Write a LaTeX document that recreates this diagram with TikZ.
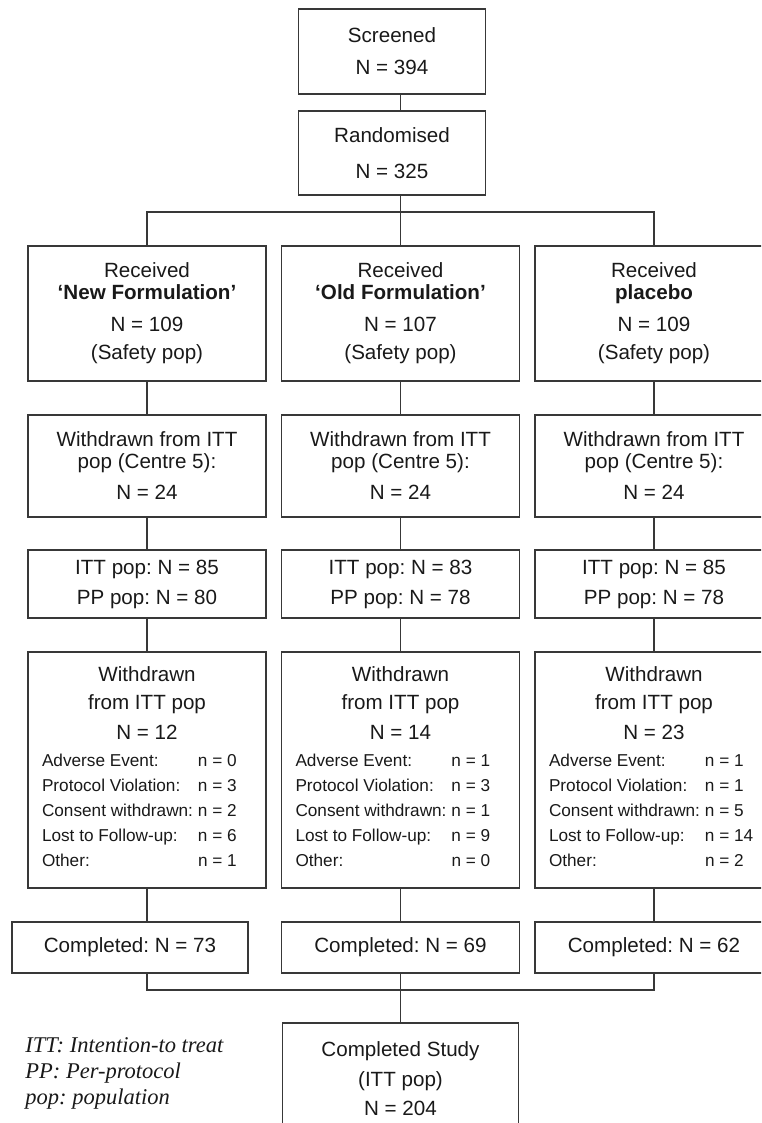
\documentclass[tikz,border=0pt]{standalone}
\usepackage{fontspec}
\setmainfont{Liberation Sans}
\newfontfamily\legendfont{Liberation Serif}
\usepackage{tikz}
\usetikzlibrary{calc,positioning}
\usepackage{xcolor}
\definecolor{linegray}{gray}{0.22}
\frenchspacing

\newcommand{\reasons}[5]{{\fontsize{8.6pt}{12.5pt}\selectfont
  \begin{tabular}[t]{@{}p{78pt}@{}p{27pt}@{}}
  Adverse Event: & n = #1\\
  Protocol Violation: & n = #2\\
  Consent withdrawn: & n = #3\\
  Lost to Follow-up: & n = #4\\
  Other: & n = #5
  \end{tabular}}}

\begin{document}
\begin{tikzpicture}[x=0.5pt, y=-0.5pt,
  flowbox/.style={draw=linegray, line width=0.7pt, align=center, inner sep=0pt,
    text=black!90, font=\fontsize{10.3pt}{11pt}\selectfont},
  armbox/.style={flowbox, minimum width=119pt},
  link/.style={draw=linegray, line width=0.7pt}]
\useasboundingbox (0,0) rectangle (761,1123);
\clip (0,0) rectangle (761,1123);

% --- screening and randomisation ---
\node[flowbox, minimum width=93.5pt, minimum height=42.5pt] (scr) at (392,51.5) {Screened\\[5pt]N = 394};
\node[flowbox, minimum width=93.5pt, minimum height=42pt] (rnd) at (392,153) {Randomised\\[7pt]N = 325};

% --- received ---
\node[armbox, minimum height=67.5pt] (rcv1) at (147,313.5) {Received\\\textbf{‘New Formulation’}\\[5pt]N = 109\\[3pt](Safety pop)};
\node[armbox, minimum height=67.5pt] (rcv2) at (400.5,313.5) {Received\\\textbf{‘Old Formulation’}\\[5pt]N = 107\\[3pt](Safety pop)};
\node[armbox, minimum height=67.5pt] (rcv3) at (654,313.5) {Received\\\textbf{placebo}\\[5pt]N = 109\\[3pt](Safety pop)};

% --- centre 5 ---
\node[armbox, minimum height=51pt] (ctr1) at (147,466) {Withdrawn from ITT\\pop (Centre 5):\\[4.5pt]N = 24};
\node[armbox, minimum height=51pt] (ctr2) at (400.5,466) {Withdrawn from ITT\\pop (Centre 5):\\[4.5pt]N = 24};
\node[armbox, minimum height=51pt] (ctr3) at (654,466) {Withdrawn from ITT\\pop (Centre 5):\\[4.5pt]N = 24};

% --- populations ---
\node[armbox, minimum height=34pt] (itt1) at (147,584) {ITT pop: N = 85\\[4pt]PP pop: N = 80};
\node[armbox, minimum height=34pt] (itt2) at (400.5,584) {ITT pop: N = 83\\[4pt]PP pop: N = 78};
\node[armbox, minimum height=34pt] (itt3) at (654,584) {ITT pop: N = 85\\[4pt]PP pop: N = 78};

% --- withdrawn ---
\node[armbox, minimum height=118pt] (wd1) at (147,770) {Withdrawn\\[3pt]from ITT pop\\[4pt]N = 12\\[2.5pt]\reasons{0}{3}{2}{6}{1}};
\node[armbox, minimum height=118pt] (wd2) at (400.5,770) {Withdrawn\\[3pt]from ITT pop\\[4pt]N = 14\\[2.5pt]\reasons{1}{3}{1}{9}{0}};
\node[armbox, minimum height=118pt] (wd3) at (654,770) {Withdrawn\\[3pt]from ITT pop\\[4pt]N = 23\\[2.5pt]\reasons{1}{1}{5}{14}{2}};

% --- completed ---
\node[flowbox, minimum width=118pt, minimum height=25.5pt] (cmp1) at (130,947.5) {Completed: N = 73};
\node[armbox, minimum height=25.5pt] (cmp2) at (400.5,947.5) {Completed: N = 69};
\node[armbox, minimum height=25.5pt] (cmp3) at (654,947.5) {Completed: N = 62};
\node[flowbox, minimum width=118pt, minimum height=55.5pt] (study) at (400.5,1078.5) {Completed Study\\[4.3pt](ITT pop)\\[3.2pt]N = 204};

\node[anchor=north west, inner sep=0pt, align=left, text=black!90,
  font=\legendfont\itshape\fontsize{11.25pt}{13pt}\selectfont] (legend) at (25,1037)
  {ITT: Intention-to treat\\PP: Per-protocol\\pop: population};

% --- connectors ---
\coordinate (split) at (400.5,212);
\coordinate (join) at (400.5,990);
\draw[link] (scr.south -| split) -- (rnd.north -| split);
\draw[link] (rnd.south -| split) -- (rcv2.north);
\draw[link] (rcv1.north) |- (split) -| (rcv3.north);

\draw[link] (rcv1.south) -- (ctr1.north);
\draw[link] (rcv2.south) -- (ctr2.north);
\draw[link] (rcv3.south) -- (ctr3.north);
\draw[link] (ctr1.south) -- (itt1.north);
\draw[link] (ctr2.south) -- (itt2.north);
\draw[link] (ctr3.south) -- (itt3.north);
\draw[link] (itt1.south) -- (wd1.north);
\draw[link] (itt2.south) -- (wd2.north);
\draw[link] (itt3.south) -- (wd3.north);
\draw[link] (wd1.south) -- (wd1.south |- cmp1.north);
\draw[link] (wd2.south) -- (cmp2.north);
\draw[link] (wd3.south) -- (cmp3.north);

\draw[link] (cmp1.south -| wd1.south) |- (join) -| (cmp3.south);
\draw[link] (cmp2.south) -- (study.north);
\end{tikzpicture}
\end{document}
